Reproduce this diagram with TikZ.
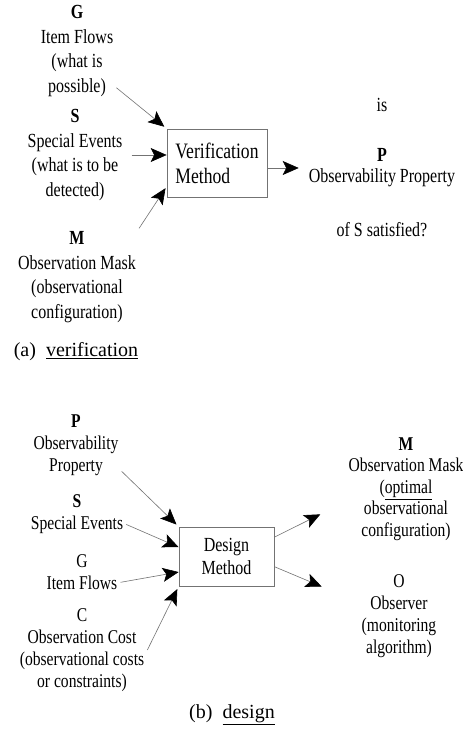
\documentclass[tikz,border=0pt]{standalone}
\usepackage{fontspec}
\setmainfont{Liberation Serif}[FakeStretch=0.8]
\newfontfamily\capfont{Liberation Serif}
\usetikzlibrary{arrows.meta}
\tikzset{
  lblA/.style={align=center,inner sep=3pt,font=\fontsize{20}{24.5}\selectfont},
  lblB/.style={align=center,inner sep=3pt,font=\fontsize{19.5}{22}\selectfont},
  methodbox/.style={draw=boxColor,line width=0.7pt,inner sep=0pt},
  feed/.style={draw=lineColor,line width=0.6pt,-{Stealth[length=16pt,width=14pt,inset=3.5pt,color=black]}},
  caption/.style={inner sep=0pt,font=\capfont\fontsize{20}{24}\selectfont},
}
\begin{document}
\begin{tikzpicture}[x=1pt,y=1pt]
\definecolor{fillColor}{RGB}{255,255,255}
\definecolor{boxColor}{gray}{0.45}
\definecolor{lineColor}{gray}{0.45}
\path[use as bounding box,fill=fillColor] (0,0) rectangle (463,731);

% (a) verification
\node[lblA] (gA) at (77,680) {\textbf{G}\\Item Flows\\(what is\\possible)};
\node[lblA] (sA) at (75,576) {\textbf{S}\\Special Events\\(what is to be\\detected)};
\node[lblA] (mA) at (77,454) {\textbf{M}\\Observation Mask\\(observational\\configuration)};
\node[methodbox,minimum width=100pt,minimum height=68pt] (vA) at (217,568) {};
\node[align=left,inner sep=0pt,font=\fontsize{22}{25}\selectfont] (vAtext) at (vA.center) {Verification\\Method};
\node[lblA,font=\fontsize{20}{21}\selectfont] (qA) at (382,563) {is\\[29pt]\textbf{P}\\Observability Property\\[33pt]of S satisfied?};
\node[caption] (capA) at (76,379) {(a)\enspace\underline{verification}};

\draw[feed,shorten >=3pt] (gA.-43) -- (vA.north west);
\draw[feed,shorten <=6pt] (sA.east) -- (sA.east -| vA.west);
\draw[feed,shorten >=2pt] (mA.north east) -- (vA.205);
\draw[feed,shorten >=7pt] (vA.east |- qA.west) -- (qA.west);

% (b) design
\node[lblB] (pB) at (76,286) {\textbf{P}\\Observability\\Property};
\node[lblB] (sB) at (77,217) {\textbf{S}\\Special Events};
\node[lblB] (gB) at (82,159) {G\\Item Flows};
\node[lblB] (cB) at (82,81) {C\\Observation Cost\\(observational costs\\or constraints)};
\node[methodbox,minimum width=95pt,minimum height=59pt] (dB) at (226.5,174.5) {};
\node[align=center,inner sep=0pt,font=\fontsize{20}{23}\selectfont] (dBtext) at (dB.center) {Design\\Method};
\node[lblB,font=\fontsize{19.5}{21.5}\selectfont] (mB) at (406,242) {\textbf{M}\\Observation Mask\\(\underline{optimal}\\observational\\configuration)};
\node[lblB] (oB) at (399,115) {O\\Observer\\(monitoring\\algorithm)};
\node[caption] (capB) at (232,16) {(b)\enspace\underline{design}};

\draw[feed,shorten >=3pt] (pB.-30) -- (dB.north west);
\draw[feed] (sB.-12) -- (dB.169);
\draw[feed] (gB.-15) -- (dB.198);
\draw[feed,shorten >=3pt] (cB.east) -- (dB.south west);
\draw[feed,shorten >=28pt] (dB.22) -- (mB.192);
\draw[feed,shorten >=40pt] (dB.-12) -- (oB.161);
\end{tikzpicture}
\end{document}
